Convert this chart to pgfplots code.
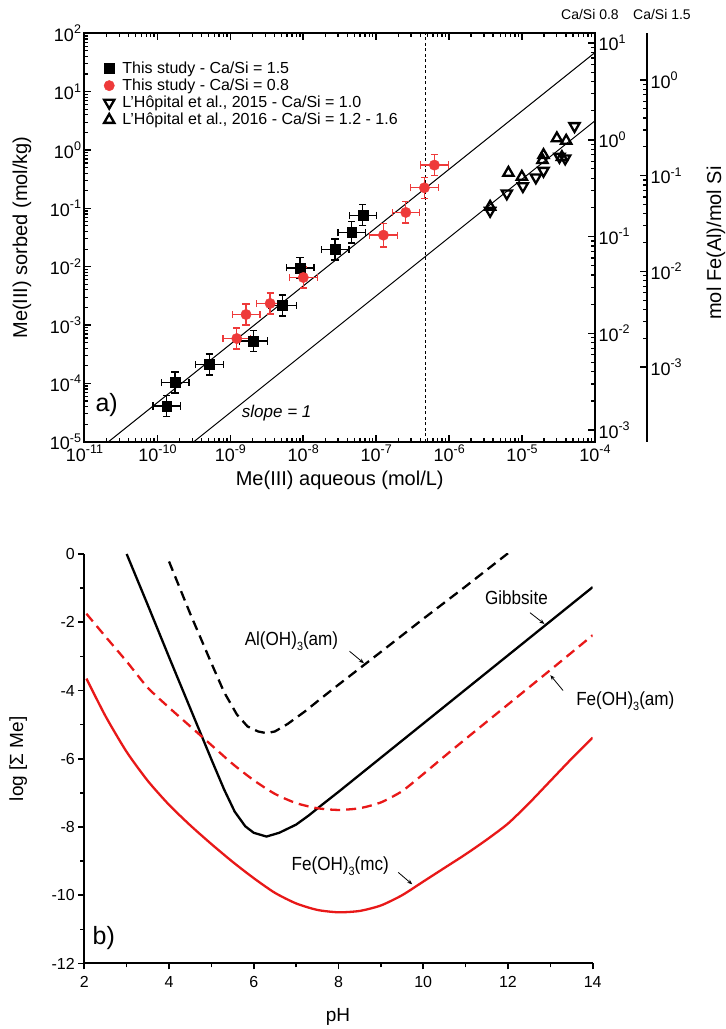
\documentclass[border=0pt]{standalone}
\usepackage{fontspec}
\setmainfont{Liberation Sans}
\newfontfamily\narrowfont[FakeStretch=0.9]{Liberation Sans}
\usepackage{pgfplots}
\usepackage{pgfplotstable}
\pgfplotsset{compat=1.18}
\usetikzlibrary{arrows.meta}
\definecolor{ptred}{RGB}{238,58,58}
\definecolor{cred}{RGB}{232,24,24}
\newcommand{\sub}[1]{\raisebox{-0.28em}{\fontsize{12}{12}\selectfont #1}}

\pgfplotstableread{
x y xp xm yp ym
1.343e-10 4.09e-5 0.55 0.35 0.52 0.34
1.742e-10 1.033e-4 0.55 0.35 0.52 0.34
5.15e-10 2.10e-4 0.55 0.35 0.52 0.34
2.065e-9 5.33e-4 0.55 0.35 0.52 0.34
5.16e-9 2.158e-3 0.55 0.35 0.52 0.34
9.03e-9 9.53e-3 0.55 0.35 0.52 0.34
2.73e-8 1.972e-2 0.55 0.35 0.52 0.34
4.62e-8 3.86e-2 0.55 0.35 0.52 0.34
6.55e-8 7.64e-2 0.55 0.35 0.52 0.34
}\blacksq

\pgfplotstableread{
x y xp xm yp ym
1.225e-9 5.86e-4 0.55 0.35 0.52 0.34
1.641e-9 1.514e-3 0.55 0.35 0.52 0.34
3.51e-9 2.34e-3 0.55 0.35 0.52 0.34
1.002e-8 6.53e-3 0.55 0.35 0.52 0.34
1.256e-7 3.47e-2 0.55 0.35 0.58 0.37
2.547e-7 8.51e-2 0.55 0.35 0.52 0.34
4.58e-7 0.2249 0.55 0.35 0.52 0.34
6.28e-7 0.5508 0.55 0.35 0.52 0.34
}\redcirc

\pgfplotstableread{
x y
3.648e-6 9.06e-2
6.18e-6 0.1803
1.026e-5 0.2404
1.545e-5 0.3388
1.968e-5 0.4395
3.258e-5 0.7638
3.90e-5 0.7178
5.24e-5 2.570
}\tridown

\pgfplotstableread{
x y
3.648e-6 0.1062
6.50e-6 0.4064
9.93e-6 0.3467
1.968e-5 0.8185
1.905e-5 0.6714
3.0e-5 1.581
4.03e-5 1.439
3.516e-5 0.7551
}\triup

\pgfplotstableread{
x y
3.0 0
3.5 -1.5
4.0 -3.02
4.5 -4.52
5.0 -6.02
5.3 -6.9
5.55 -7.55
5.8 -7.98
6.0 -8.17
6.3 -8.28
6.6 -8.17
7.0 -7.93
7.3 -7.66
7.6 -7.36
8.0 -6.97
9.0 -5.97
10 -4.97
11 -3.97
12 -2.97
13 -1.97
14 -0.97
}\gibbsite

\pgfplotstableread{
x y
4.0 -0.22
4.5 -1.75
5.0 -3.2
5.3 -4.05
5.6 -4.7
5.85 -5.05
6.1 -5.2
6.3 -5.25
6.5 -5.2
6.8 -4.98
7.2 -4.62
7.6 -4.22
8.0 -3.83
9.0 -2.87
10 -1.9
11 -0.95
12.0 0.02
}\alam

\pgfplotstableread{
x y
2.05 -1.75
2.5 -2.42
3.0 -3.15
3.5 -3.92
4.0 -4.5
4.5 -5.05
5.0 -5.6
5.5 -6.15
6.0 -6.63
6.5 -7.03
7.0 -7.3
7.5 -7.45
8.0 -7.5
8.5 -7.45
9.0 -7.28
9.5 -6.95
10.0 -6.45
10.5 -5.93
11 -5.42
12 -4.41
13 -3.4
14 -2.38
}\feam

\pgfplotstableread{
x y
2.05 -3.65
2.5 -4.75
3.0 -5.8
3.5 -6.65
4.0 -7.35
4.5 -7.95
5.0 -8.5
5.5 -9.02
6.0 -9.5
6.5 -9.93
7.0 -10.24
7.5 -10.43
8.0 -10.5
8.5 -10.46
9.0 -10.3
9.5 -10.0
10.0 -9.6
10.5 -9.2
11.0 -8.8
11.5 -8.37
12.0 -7.9
12.5 -7.3
13.0 -6.65
13.5 -6.0
14.0 -5.38
}\femc

\pgfplotsset{
  toplog/.style={
    log number format basis/.code 2 args={10\raisebox{0.42em}{\fontsize{12.5}{12}\selectfont\pgfkeys{/pgf/number format/assume math mode=true}\pgfmathprintnumber{##2}}},
    tick label style={font=\fontsize{18}{18}\selectfont},
    major tick length=7pt, minor tick length=4pt,
    major tick style={line width=1.6pt, black},
    minor tick style={line width=1.2pt, black},
    axis line style={line width=2pt},
    tick align=inside,
  }
}

\begin{document}
\begin{tikzpicture}
\useasboundingbox (0,0) rectangle (726pt,1029pt);

% ---------- top panel ----------
\begin{axis}[
  toplog,
  at={(84.5pt,587.3pt)}, anchor=south west,
  scale only axis, width=510.5pt, height=408.4pt,
  xmode=log, ymode=log,
  xmin=1e-11, xmax=1e-4, ymin=1e-5, ymax=100,
  xtick={1e-11,1e-10,1e-9,1e-8,1e-7,1e-6,1e-5,1e-4},
  ytick={1e-5,1e-4,1e-3,1e-2,1e-1,1,10,100},
  xtick pos=both, ytick pos=left,
  xlabel={Me(III) aqueous (mol/L)},
  ylabel={Me(III) sorbed (mol/kg)},
  label style={font=\fontsize{20}{20}\selectfont},
  xlabel style={at={(axis description cs:0.5,-0.094)}, anchor=center},
  ylabel style={at={(axis description cs:-0.1225,0.5)}, anchor=center},
  legend style={draw=none, fill=none, at={(0.032,0.94)}, anchor=north west,
    font=\fontsize{16}{19}\selectfont, row sep=0pt,
    /tikz/every odd column/.append style={column sep=6pt}},
  legend cell align=left,
  clip=true,
]
\addplot[forget plot, black, line width=1pt] coordinates {(1e-11,4.68e-6) (1e-4,46.8)};
\addplot[forget plot, black, line width=1pt] coordinates {(1e-11,3.162e-7) (1e-4,3.162)};
\addplot[forget plot, black, line width=1.2pt, dash pattern=on 3pt off 2.5pt] coordinates {(4.69e-7,1e-5) (4.69e-7,100)};

\addplot[only marks, mark=square*, mark size=4.9pt, black,
  error bars/.cd, x dir=both, y dir=both, x explicit relative, y explicit relative,
  error bar style={line width=1.3pt, black},
  error mark options={rotate=90, mark size=3.6pt, line width=1.3pt, black}]
  table[x=x, y=y, x error plus=xp, x error minus=xm, y error plus=yp, y error minus=ym]{\blacksq};
\addlegendentry{This study - Ca/Si = 1.5}

\addplot[only marks, mark=*, mark size=5.2pt, ptred, mark options={draw=ptred, fill=ptred},
  error bars/.cd, x dir=both, y dir=both, x explicit relative, y explicit relative,
  error bar style={line width=1.3pt, ptred},
  error mark options={rotate=90, mark size=3.6pt, line width=1.3pt, ptred}]
  table[x=x, y=y, x error plus=xp, x error minus=xm, y error plus=yp, y error minus=ym]{\redcirc};
\addlegendentry{This study - Ca/Si = 0.8}

\addplot[only marks, mark=triangle, mark size=5.9pt, black,
  mark options={rotate=180, line width=2.3pt, fill=white}]
  table[x=x, y=y]{\tridown};
\addlegendentry{L'Hôpital et al., 2015 - Ca/Si = 1.0}

\addplot[only marks, mark=triangle, mark size=5.9pt, black,
  mark options={line width=2.3pt, fill=white}]
  table[x=x, y=y]{\triup};
\addlegendentry{L'Hôpital et al., 2016 - Ca/Si = 1.2 - 1.6}

\node[font=\fontsize{25}{25}\selectfont] at (rel axis cs:0.0435,0.09) {a)};
\node[font=\fontsize{17}{17}\selectfont\itshape] at (rel axis cs:0.3765,0.0695) {slope = 1};
\end{axis}

% inner right axis (Ca/Si 0.8)
\begin{axis}[
  toplog,
  at={(84.5pt,587.3pt)}, anchor=south west,
  scale only axis, width=510.5pt, height=408.4pt,
  ymode=log, xmin=0, xmax=1, ymin=7.586e-4, ymax=12.589,
  axis x line=none, axis y line*=right,
  ytick={1e-3,1e-2,1e-1,1,10},
]
\end{axis}

% outer right axis (Ca/Si 1.5)
\begin{axis}[
  toplog,
  at={(84.5pt,587.3pt)}, anchor=south west,
  scale only axis, width=562.5pt, height=408.4pt,
  ymode=log, xmin=0, xmax=1, ymin=1.66e-4, ymax=3.076,
  axis x line=none, axis y line*=right,
  ytick={1e-3,1e-2,1e-1,1},
]
\end{axis}

\node[font=\fontsize{14}{14}\selectfont] at (590pt,1014pt) {Ca/Si 0.8};
\node[font=\fontsize{14}{14}\selectfont] at (662pt,1014pt) {Ca/Si 1.5};
\node[font=\fontsize{20}{20}\selectfont, rotate=90] at (716pt,786pt) {mol Fe(Al)/mol Si};

% ---------- bottom panel ----------
\begin{axis}[
  at={(84.3pt,65.5pt)}, anchor=south west,
  scale only axis, width=508.4pt, height=409.5pt,
  xmin=2, xmax=14, ymin=-12, ymax=0,
  axis lines=left, axis line style={line width=2pt, -},
  xtick={2,4,...,14}, ytick={-12,-10,...,0},
  minor xtick={3,5,...,13}, minor ytick={-11,-9,...,-1},
  tick align=outside,
  major tick length=6pt, minor tick length=4pt,
  major tick style={line width=1.6pt, black},
  minor tick style={line width=1.4pt, black},
  tick label style={font=\fontsize{16}{16}\selectfont},
  xticklabel style={yshift=-3pt},
  /pgf/number format/assume math mode=true,
  xlabel={pH}, ylabel={log [Σ Me]},
  label style={font=\fontsize{19}{19}\selectfont},
  xlabel style={at={(axis description cs:0.499,-0.131)}, anchor=center},
  ylabel style={at={(axis description cs:-0.130,0.5)}, anchor=center},
  clip=true,
]
\addplot[black, line width=2.3pt] table[x=x,y=y]{\gibbsite};
\addplot[black, line width=2.3pt, dash pattern=on 10pt off 6pt] table[x=x,y=y]{\alam};
\addplot[cred, line width=2.3pt, dash pattern=on 10pt off 6pt, smooth, tension=0.4] table[x=x,y=y]{\feam};
\addplot[cred, line width=2.3pt, smooth, tension=0.4] table[x=x,y=y]{\femc};
\end{axis}

\begin{axis}[
  at={(84.3pt,65.5pt)}, anchor=south west,
  scale only axis, width=508.4pt, height=409.5pt,
  xmin=2, xmax=14, ymin=-12, ymax=0,
  hide axis, clip=false,
]
\node[font=\narrowfont\fontsize{19}{19}\selectfont] at (axis cs:12.2,-1.29) {Gibbsite};
\draw[-{Stealth[length=5pt,width=4pt]}, line width=0.8pt] (axis cs:12.52,-1.72) -- (axis cs:12.86,-2.05);
\node[font=\narrowfont\fontsize{19}{19}\selectfont] at (axis cs:6.89,-2.56) {Al(OH)\sub{3}(am)};
\draw[-{Stealth[length=5pt,width=4pt]}, line width=0.8pt] (axis cs:8.26,-2.85) -- (axis cs:8.6,-3.2);
\node[font=\narrowfont\fontsize{19}{19}\selectfont] at (axis cs:14.77,-4.31) {Fe(OH)\sub{3}(am)};
\draw[-{Stealth[length=5pt,width=4pt]}, line width=0.8pt] (axis cs:13.3,-4.0) -- (axis cs:13.0,-3.55);
\node[font=\narrowfont\fontsize{19}{19}\selectfont] at (axis cs:8.04,-9.14) {Fe(OH)\sub{3}(mc)};
\draw[-{Stealth[length=5pt,width=4pt]}, line width=0.8pt] (axis cs:9.41,-9.33) -- (axis cs:9.74,-9.68);
\node[font=\fontsize{25}{25}\selectfont] at (axis cs:2.46,-11.24) {b)};
\end{axis}
\end{tikzpicture}
\end{document}
